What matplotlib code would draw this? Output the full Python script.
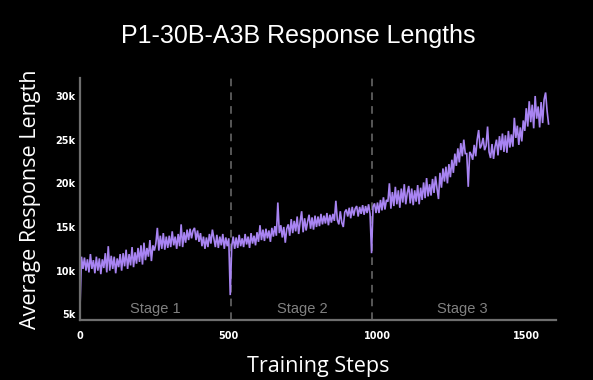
"""P1-30B-A3B response lengths over RL training: one noisy curve split into three stages.

Run headless:

    python plot.py
"""
from __future__ import annotations

import matplotlib
matplotlib.use("Agg")                              # headless
import matplotlib.pyplot as plt

# --- The data (every 5 training steps, in k tokens) ------------------------------------------------- #
STEP_STRIDE = 5
RESPONSE_K = [
    # steps 0-95
    5.7, 11.6, 10.2, 11.5, 10.0, 11.3, 9.8, 11.9, 10.2, 11.2, 9.7, 11.6, 10.0, 11.4, 9.6, 11.3, 10.3, 12.0, 9.8, 12.8,
    # 100-195
    10.0, 11.7, 10.2, 11.6, 9.7, 11.4, 10.4, 11.9, 10.0, 12.0, 10.5, 12.4, 10.2, 11.9, 10.6, 12.7, 10.4, 12.1, 10.8, 12.6,
    # 200-295
    11.0, 12.9, 10.7, 13.2, 11.2, 12.6, 11.6, 13.5, 11.1, 12.9, 12.3, 13.1, 14.9, 12.3, 14.0, 12.5, 14.3, 12.4, 13.9, 12.6,
    # 300-395
    14.0, 12.7, 14.5, 12.9, 13.9, 12.5, 14.2, 12.8, 15.3, 12.7, 14.4, 13.2, 14.7, 13.5, 14.8, 13.7, 14.6, 14.9, 13.5, 14.6,
    # 400-495
    13.3, 14.3, 12.8, 13.9, 12.5, 13.8, 12.7, 14.2, 13.1, 14.7, 13.7, 12.7, 14.1, 12.6, 13.9, 12.9, 14.2, 12.5, 13.8, 12.8,
    # 500-595
    13.7, 7.2, 12.8, 13.9, 12.5, 13.8, 12.6, 14.1, 12.8, 13.7, 12.7, 14.2, 13.0, 13.9, 12.6, 14.3, 13.1, 14.0, 12.9, 14.4,
    # 600-695
    13.3, 15.2, 13.5, 14.7, 13.4, 14.8, 13.7, 14.6, 13.3, 14.9, 13.9, 15.1, 14.0, 17.8, 14.3, 15.2, 13.8, 15.0, 13.2, 14.8,
    # 700-795
    15.3, 14.0, 15.9, 14.3, 15.7, 14.5, 16.2, 14.2, 15.6, 16.8, 14.4, 16.0, 14.6, 15.6, 16.4, 14.8, 16.1, 14.7, 16.3, 15.0,
    # 800-895
    16.2, 15.1, 16.5, 15.3, 16.3, 15.4, 16.6, 15.2, 16.4, 15.5, 16.5, 15.7, 18.0, 15.8, 15.3, 16.8, 15.5, 15.0, 16.7, 17.0,
    # 900-995
    16.2, 17.2, 16.0, 17.3, 16.3, 17.1, 17.4, 16.2, 17.3, 16.5, 17.5, 16.4, 17.4, 16.6, 17.6, 16.5, 12.0, 17.3, 17.7, 16.6,
    # 1000-1095
    17.8, 16.6, 18.1, 16.9, 18.4, 17.0, 18.1, 17.9, 20.0, 17.1, 19.0, 17.4, 19.6, 17.6, 19.2, 17.2, 19.4, 17.8, 19.9, 17.6,
    # 1100-1195
    18.9, 19.7, 17.7, 19.4, 17.5, 19.2, 17.9, 19.8, 17.6, 19.5, 18.1, 20.1, 18.3, 20.6, 18.5, 19.9, 18.6, 20.5, 18.9, 20.8,
    # 1200-1295
    19.4, 18.2, 21.2, 19.5, 21.7, 20.2, 21.9, 20.0, 22.2, 20.7, 22.7, 21.2, 23.4, 22.0, 24.0, 22.4, 24.6, 23.1, 25.0, 23.4,
    # 1300-1395
    23.4, 19.6, 23.6, 23.3, 22.7, 24.4, 23.1, 25.0, 26.1, 24.0, 24.4, 25.2, 23.8, 24.3, 26.5, 23.6, 22.9, 24.5, 22.8, 24.2,
    # 1400-1495
    25.0, 23.2, 25.4, 23.8, 25.7, 23.6, 25.5, 23.5, 26.0, 24.1, 25.6, 24.2, 27.5, 25.2, 26.6, 24.4, 26.4, 24.8, 27.2, 26.0,
    # 1500-1575
    28.6, 26.5, 29.4, 27.0, 29.0, 26.3, 30.0, 27.4, 28.8, 26.4, 29.3, 26.9, 29.6, 30.4, 28.3, 26.8,
]
STEPS = [i * STEP_STRIDE for i in range(len(RESPONSE_K))]
RESPONSE = [v * 1000 for v in RESPONSE_K]

STAGE_BOUNDS = [508, 982]                          # dashed stage separators (training step)
STAGE_NAMES = ["Stage 1", "Stage 2", "Stage 3"]
STAGE_LABEL_X = [253, 747, 1285]
Y_TICKS = [5000, 10000, 15000, 20000, 25000, 30000]
Y_TICK_LABELS = ["5k", "10k", "15k", "20k", "25k", "30k"]
X_TICKS = [0, 500, 1000, 1500]

LINE_COLOR = "#a884f2"
AXIS_COLOR = "#6e6e6e"


def main() -> None:
    fig = plt.figure(figsize=(5.93, 3.80), dpi=100, facecolor="black")
    ax = fig.add_axes([80 / 593, 1 - 320 / 380, 476 / 593, 242 / 380], facecolor="black")

    ax.plot(STEPS, RESPONSE, "-", color=LINE_COLOR, lw=1.2, solid_joinstyle="miter")

    # --- stage separators & labels ---------------------------------------------------------------- #
    for b in STAGE_BOUNDS:
        ax.axvline(b, color=AXIS_COLOR, ls=(0, (5, 4)), lw=1.1, zorder=0)
    for name, sx in zip(STAGE_NAMES, STAGE_LABEL_X):
        ax.text(sx, 5650, name, color="#808080", fontsize=10.5, ha="center", va="center",
                family="Liberation Sans")

    ax.set_xlim(0, 1600)
    ax.set_ylim(4350, 32060)
    ax.set_xticks(X_TICKS)
    ax.set_yticks(Y_TICKS)
    ax.set_yticklabels(Y_TICK_LABELS)
    ax.tick_params(axis="both", length=0, colors="white", labelsize=7)
    ax.tick_params(axis="x", pad=8)
    ax.tick_params(axis="y", pad=3)
    for lab in ax.get_xticklabels() + ax.get_yticklabels():
        lab.set_fontweight("bold")
        lab.set_family("DejaVu Sans")

    for side in ("top", "right"):
        ax.spines[side].set_visible(False)
    for side in ("left", "bottom"):
        ax.spines[side].set_color(AXIS_COLOR)
        ax.spines[side].set_linewidth(1.6)

    ax.set_xlabel("Training Steps", color="white", fontsize=15.5, family="Open Sans")
    ax.xaxis.set_label_coords(0.5, -0.192)
    ax.xaxis.label.set_va("center")
    ax.set_ylabel("Average Response Length", color="white", fontsize=15.5, family="Open Sans")
    ax.yaxis.set_label_coords(-0.105, 0.5)
    ax.yaxis.label.set_va("center")

    fig.text(0.503, 0.905, "P1-30B-A3B Response Lengths", color="white", fontsize=18,
             ha="center", va="center", family="Liberation Sans")

    fig.savefig("out.png", dpi=100, facecolor="black")


if __name__ == "__main__":
    main()
